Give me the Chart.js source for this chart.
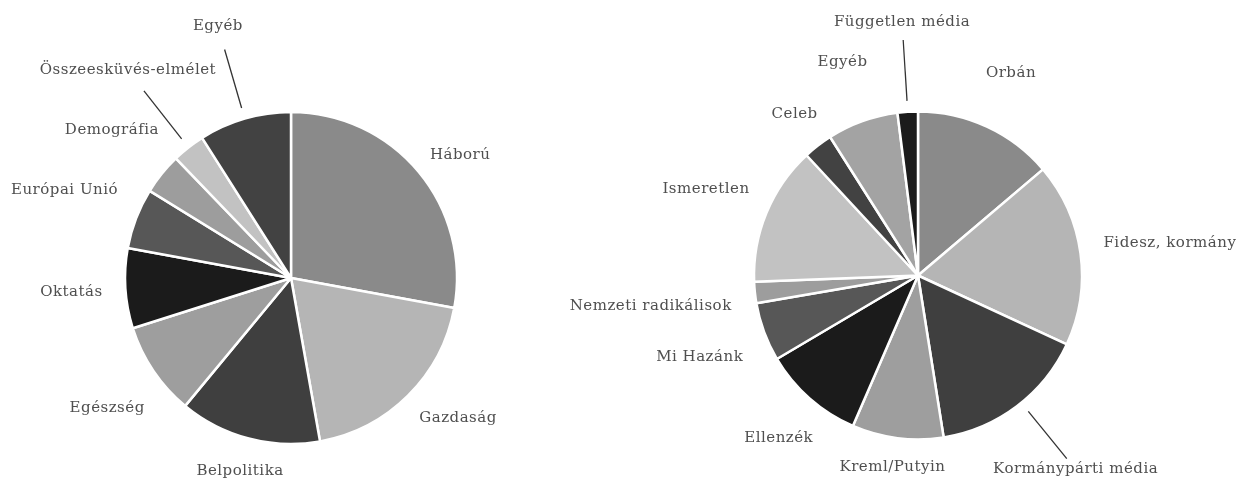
<!DOCTYPE html>
<html lang="hu">
<head>
    <meta charset="UTF-8">
    <title>Témák és szereplők</title>
    <script src="https://cdn.jsdelivr.net/npm/chart.js"></script>
    <style>
        body {
            margin: 0;
            padding: 0;
            background: #fff;
            width: 1237px;
            height: 481px;
            overflow: hidden;
            position: relative;
        }
        canvas {
            position: absolute;
            top: 0;
        }
        #temak { left: 0; }
        #szereplok { left: 540px; }
    </style>
</head>
<body>
    <canvas id="temak" width="540" height="481"></canvas>
    <canvas id="szereplok" width="697" height="481"></canvas>
    <script>
        // bal oldali kör: témák (%)
        const temaCimkek = ['Háború', 'Gazdaság', 'Belpolitika', 'Egészség', 'Oktatás', 'Európai Unió', 'Demográfia', 'Összeesküvés-elmélet', 'Egyéb'];
        const temaAranyok = [27.9, 19.3, 13.8, 9.1, 7.8, 5.9, 4.0, 3.2, 9.0];

        // jobb oldali kör: szereplők (%)
        const szereploCimkek = ['Orbán', 'Fidesz, kormány', 'Kormánypárti média', 'Kreml/Putyin', 'Ellenzék', 'Mi Hazánk', 'Nemzeti radikálisok', 'Ismeretlen', 'Celeb', 'Egyéb', 'Független média'];
        const szereploAranyok = [13.8, 18.1, 15.6, 9.0, 10.0, 5.8, 2.1, 13.7, 2.9, 7.0, 2.0];

        const szurkek = ['#8a8a8a', '#b5b5b5', '#3f3f3f', '#9e9e9e', '#1b1b1b', '#575757', '#9d9d9d', '#c2c2c2', '#424242', '#a3a3a3', '#1b1b1b'];

        // címkék elhelyezése: [távolság a középponttól, szögeltolás fokban, vezetővonal]
        const temaHelyek = [[209, 3.8], [218, -5.2], [200, 0], [225, -1.2], [220, 0], [243, 0.2], [232, 0.6], [264, 0, true], [262, 0, true]];
        const szereploHelyek = [[223, -0.2], [254, 0.4], [250, -2, true], [193, 0.4], [214, -0.8], [233, -0.3], [269, -0.5], [229, -0.3], [203, 0.2], [226, 0.3], [254, 0, true]];

        const cimkePlugin = {
            id: 'cimkek',
            afterDatasetsDraw(chart, args, opts) {
                const ctx = chart.ctx;
                const meta = chart.getDatasetMeta(0);
                ctx.save();
                ctx.font = '15px "DejaVu Serif"';
                ctx.letterSpacing = '0.5px';
                ctx.fillStyle = '#4f4f4f';
                ctx.textAlign = 'center';
                ctx.textBaseline = 'middle';
                meta.data.forEach((arc, i) => {
                    const p = arc.getProps(['x', 'y', 'startAngle', 'endAngle', 'outerRadius'], true);
                    const hely = opts.helyek[i];
                    const szog = (p.startAngle + p.endAngle) / 2 + hely[1] * Math.PI / 180;
                    const cx = Math.cos(szog), cy = Math.sin(szog);
                    if (hely[2]) {
                        ctx.strokeStyle = '#333';
                        ctx.lineWidth = 1.3;
                        ctx.beginPath();
                        ctx.moveTo(p.x + cx * (p.outerRadius + 11), p.y + cy * (p.outerRadius + 11));
                        ctx.lineTo(p.x + cx * (p.outerRadius + 72), p.y + cy * (p.outerRadius + 72));
                        ctx.stroke();
                    }
                    ctx.fillText(chart.data.labels[i], p.x + cx * hely[0], p.y + cy * hely[0]);
                });
                ctx.restore();
            }
        };

        function korRajz(id, cimkek, ertekek, helyek, sugar, padding) {
            return new Chart(document.getElementById(id), {
                type: 'pie',
                data: {
                    labels: cimkek,
                    datasets: [{
                        data: ertekek,
                        backgroundColor: szurkek.slice(0, ertekek.length),
                        borderColor: '#fff',
                        borderWidth: 2.5
                    }]
                },
                options: {
                    responsive: false,
                    animation: false,
                    radius: sugar,
                    layout: { padding: padding },
                    plugins: {
                        legend: { display: false },
                        tooltip: { enabled: false },
                        cimkek: { helyek: helyek }
                    }
                },
                plugins: [cimkePlugin]
            });
        }

        korRajz('temak', temaCimkek, temaAranyok, temaHelyek, 166, { left: 42, right: 0, top: 75, bottom: 0 });
        korRajz('szereplok', szereploCimkek, szereploAranyok, szereploHelyek, 164, { left: 59, right: 0, top: 70, bottom: 0 });
    </script>
</body>
</html>
